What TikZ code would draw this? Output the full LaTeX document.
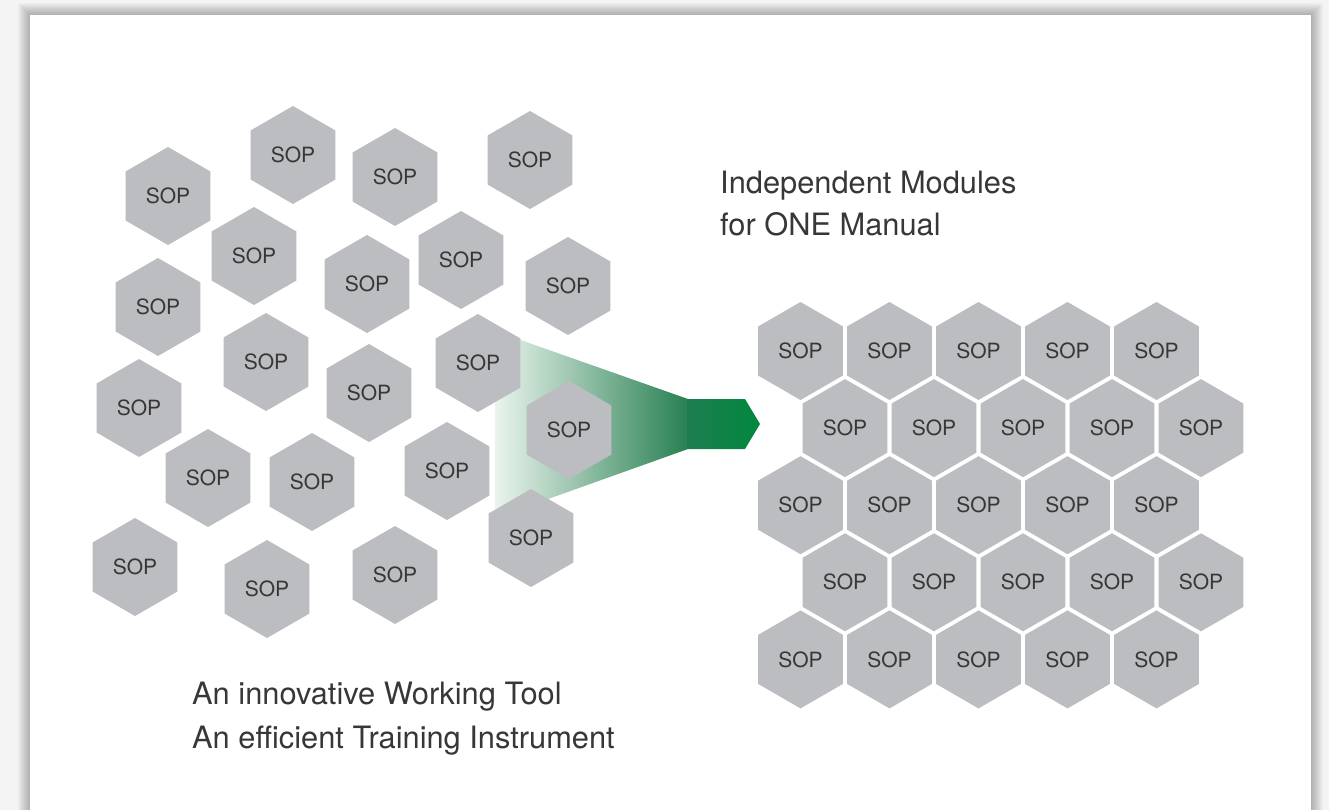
\documentclass[tikz,border=0pt]{standalone}
\usepackage{fontspec}
\setmainfont{TeX Gyre Heros}
\usetikzlibrary{shapes.geometric}
\definecolor{hexgray}{RGB}{188,189,193}
\definecolor{txt}{RGB}{55,55,55}
\definecolor{bgc}{RGB}{244,244,244}
\definecolor{gA}{RGB}{234,244,237}
\definecolor{gB}{RGB}{40,128,82}
\definecolor{gC}{RGB}{30,125,80}
\definecolor{gD}{RGB}{0,136,62}
\begin{document}
\begin{tikzpicture}[x=1pt,y=-1pt,
  hex/.style={regular polygon, regular polygon sides=6, shape border rotate=30,
    minimum size=98pt, inner sep=0pt, outer sep=0pt, fill=hexgray, text=txt,
    font=\fontsize{21}{24}\selectfont},
  caption/.style={anchor=base west, inner sep=0pt, text=txt,
    font=\fontsize{30.8}{40}\selectfont}]
\useasboundingbox (0,0) rectangle (1329,810);
\clip (0,0) rectangle (1329,810);
% background and card shadow
\fill[bgc] (0,0) rectangle (1329,810);
\foreach \i in {1,...,12}{
  \fill[black,opacity=0.022] (30-\i,15-\i) rectangle (1311+\i,840);
}
\fill[white] (30,15) rectangle (1311,840);
% green funnel arrow
\shade[left color=gA, right color=gB] (495,331) -- (688,399) -- (688,449) -- (495,518) -- cycle;
\shade[left color=gC, right color=gD] (687.5,399) -- (745,399) -- (760,424) -- (745,449) -- (687.5,449) -- cycle;
% scattered hexagons
\foreach \n/\x/\y in {1/168/196, 2/293/155, 3/395/177, 4/530/160, 5/254/256,
  6/158/307, 7/367/284, 8/461/260, 9/568/286, 10/266/362, 11/139/408,
  12/369/393, 13/478/363, 14/569/430, 15/208/478, 16/312/482, 17/447/471,
  18/531/538, 19/135/567, 20/267/589, 21/395/575}{
  \node[hex] (l\n) at (\x,\y) {SOP};
}
% honeycomb
\foreach \r in {0,...,4}{
  \foreach \c in {0,...,4}{
    \pgfmathsetmacro\xx{800.5+89*\c+44.5*mod(\r,2)}
    \pgfmathsetmacro\yy{351+77.1*\r}
    \node[hex] (g\r\c) at (\xx,\yy) {SOP};
  }
}
% captions
\node[caption] (t1) at (720,194) {Independent Modules};
\node[caption] (t2) at (720,236) {for ONE Manual};
\node[caption] (t3) at (192,704) {An innovative Working Tool};
\node[caption] (t4) at (192,748) {An efficient Training Instrument};
\end{tikzpicture}
\end{document}
